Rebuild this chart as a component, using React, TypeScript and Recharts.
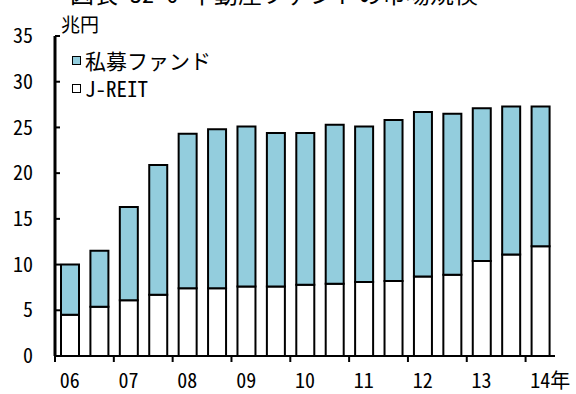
import React from 'react'
import { BarChart, Bar, XAxis, YAxis } from 'recharts'

// half-year periods, 2006 H1 .. 2014 H1
const periods = [
  '06上', '06下', '07上', '07下', '08上', '08下', '09上', '09下', '10上',
  '10下', '11上', '11下', '12上', '12下', '13上', '13下', '14上',
]
const jreit = [4.5, 5.4, 6.1, 6.7, 7.4, 7.4, 7.6, 7.6, 7.8, 7.9, 8.1, 8.2, 8.7, 8.9, 10.4, 11.1, 12.0]
const privateFund = [5.5, 6.1, 10.2, 14.2, 16.9, 17.4, 17.5, 16.8, 16.6, 17.4, 17.0, 17.6, 18.0, 17.6, 16.7, 16.2, 15.3]
const yearLabels = ['06', '07', '08', '09', '10', '11', '12', '13', '14']
const yTicks = [0, 5, 10, 15, 20, 25, 30, 35]

const title = '図表 32-6 不動産ファンドの市場規模'
const unit = '兆円'
const seriesNames = { fund: '私募ファンド', reit: 'J-REIT' }

const FONT = '"Noto Sans Mono CJK JP", "Noto Sans CJK JP", sans-serif'
const BLUE = '#93CDDD'
const W = 576
const H = 394
const margin = { top: 36, right: 21, bottom: 0, left: 0 }
const yWidth = 55
const xHeight = 38

const data = periods.map((p, i) => ({ period: p, reit: jreit[i], fund: privateFund[i] }))
const band = (W - yWidth - margin.left - margin.right) / periods.length

const YTick = ({ x, y, payload }: any) => (
  <g>
    <line x1={x} x2={x + 5} y1={y} y2={y} stroke="#000" strokeWidth={2} />
    <text x={x - 22} y={y} dy="0.36em" textAnchor="end" fontSize={20} fontFamily={FONT} fill="#000">
      {payload.value}
    </text>
  </g>
)

const XTick = ({ x, y, index }: any) => {
  if (index % 2 !== 0) return null
  const label = yearLabels[index / 2]
  const last = index === periods.length - 1
  return (
    <g>
      <line x1={x - band / 2} x2={x - band / 2} y1={y} y2={y + 6} stroke="#000" strokeWidth={2} />
      {last ? (
        <text x={x - 10} y={y + 32} textAnchor="start" fontSize={20} fontFamily={FONT} fill="#000">
          {label}年
        </text>
      ) : (
        <text x={x} y={y + 32} textAnchor="middle" fontSize={20} fontFamily={FONT} fill="#000">
          {label}
        </text>
      )}
    </g>
  )
}

const LegendItem = ({ color, text }: { color: string; text: string }) => (
  <div style={{ display: 'flex', alignItems: 'center', height: 28 }}>
    <div style={{ width: 7, height: 7, border: '1.5px solid #000', background: color, marginRight: 4 }} />
    <span style={{ fontSize: 21, fontFamily: FONT, color: '#000', lineHeight: '28px' }}>{text}</span>
  </div>
)

export default function App() {
  return (
    <div style={{ position: 'absolute', left: 0, top: 0, width: W, height: H, background: '#fff', overflow: 'hidden' }}>
      <BarChart width={W} height={H} data={data} margin={margin} barSize={18}>
        <XAxis
          dataKey="period"
          height={xHeight}
          interval={0}
          tickSize={0}
          tickMargin={0}
          tickLine={false}
          axisLine={{ stroke: '#000', strokeWidth: 2 }}
          tick={<XTick />}
        />
        <YAxis
          width={yWidth}
          domain={[0, 35]}
          ticks={yTicks}
          interval={0}
          tickSize={0}
          tickMargin={0}
          tickLine={false}
          axisLine={{ stroke: '#000', strokeWidth: 3 }}
          tick={<YTick />}
          label={({ viewBox }: any) => (
            <text x={viewBox.x + viewBox.width + 6} y={viewBox.y - 4} fontSize={19} fontFamily={FONT} fill="#000">
              {unit}
            </text>
          )}
        />
        <Bar dataKey="reit" name={seriesNames.reit} stackId="a" fill="#fff" stroke="#000" strokeWidth={2} isAnimationActive={false} />
        <Bar dataKey="fund" name={seriesNames.fund} stackId="a" fill={BLUE} stroke="#000" strokeWidth={2} isAnimationActive={false} />
      </BarChart>
      <svg width={W} height={30} style={{ position: 'absolute', left: 0, top: 0, pointerEvents: 'none' }}>
        <text x={70} y={3} fontSize={24} fontFamily={FONT} fill="#000">
          {title}
        </text>
      </svg>
      <div style={{ position: 'absolute', left: 72, top: 46 }}>
        <LegendItem color={BLUE} text={seriesNames.fund} />
        <LegendItem color="#fff" text={seriesNames.reit} />
      </div>
    </div>
  )
}
